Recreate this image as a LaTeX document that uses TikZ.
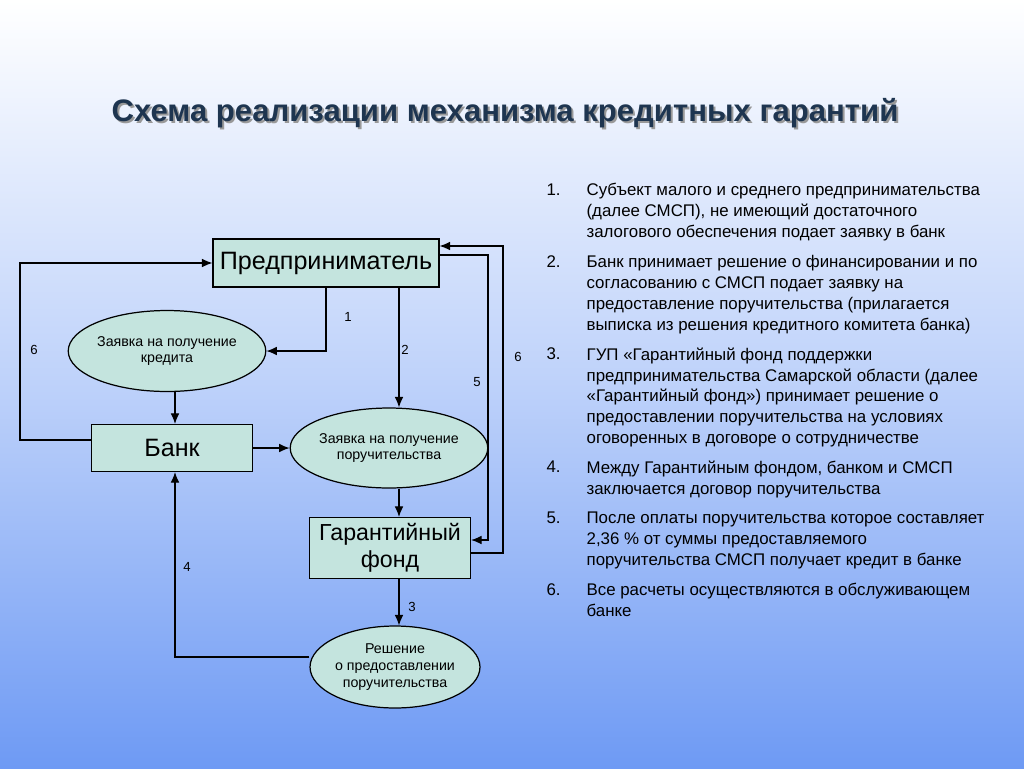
\documentclass[tikz,border=0pt]{standalone}
\usepackage{fontspec}
\setmainfont{Liberation Sans}
\usetikzlibrary{shapes.geometric,arrows.meta}
\definecolor{boxfill}{HTML}{C4E4DE}
\definecolor{titleblue}{HTML}{1E3550}
\definecolor{bgtop}{HTML}{FFFFFF}
\definecolor{bgbot}{HTML}{6E9AF4}
\tikzset{
	block/.style={draw, fill=boxfill, minimum height=#1},
	block/.default=0.96cm,
	oval/.style={draw, ellipse, fill=boxfill, inner sep=0pt, align=center, font=\fontsize{8.1}{9.6}\selectfont},
	link/.style={-{Latex[length=6pt,width=5pt]}},
	num/.style={font=\fontsize{7.5}{9}\selectfont}
}
\begin{document}
\begin{tikzpicture}[x=0.02cm, y=-0.02cm, line width=0.7pt]
		\shade[top color=bgtop, bottom color=bgbot, middle color=bgtop!55!bgbot] (0,0) rectangle (1024,768);
		\useasboundingbox (0,0) rectangle (1024,768);

		\node[font=\bfseries\fontsize{17.7}{20}\selectfont, text=black!40] at (507,115) {Схема реализации механизма кредитных гарантий};
		\node[font=\bfseries\fontsize{17.7}{20}\selectfont, text=titleblue] (title) at (505,113) {Схема реализации механизма кредитных гарантий};

		% boxes and ovals
		\node[block, minimum width=4.52cm, font=\fontsize{14.3}{16}\selectfont] (ent) at (326,263) {Предприниматель};
		\node[oval, minimum width=3.38cm, minimum height=1.62cm] (credit) at (167,351) {Заявка на получение\\кредита};
		\node[block=0.94cm, minimum width=3.22cm, font=\fontsize{14.3}{16}\selectfont] (bank) at (172,448) {Банк};
		\node[oval, minimum width=3.16cm, minimum height=1.6cm] (guar) at (389,448) {Заявка на получение\\поручительства};
		\node[block=1.14cm, minimum width=3.22cm, align=center, font=\fontsize{13.2}{15.5}\selectfont] (fund) at (390,548) {Гарантийный\\фонд};
		\node[oval, minimum width=3.4cm, minimum height=1.64cm] (dec) at (395,667) {Решение\\о предоставлении\\поручительства};

		% connectors
		\draw[link] (ent.south -| 326,0) |- (credit.east);
		\draw[link] (ent.south -| 399,0) -- (guar.north -| 399,0);
		\draw[link] (credit.south -| 175,0) -- (bank.north -| 175,0);
		\draw[link] (bank.east) -- (guar.west);
		\draw[link] (guar.south -| 399,0) -- (fund.north -| 399,0);
		\draw[link] (fund.south -| 399,0) -- (dec.north -| 399,0);
		\draw[link] (dec.west |- 0,657) -| (bank.south -| 175,0);
		\draw[link] (bank.west |- 0,440) -- (20,440) |- (ent.west);
		\draw[link] (ent.east |- 0,255) -- (488,255) |- (fund.east |- 0,540);
		\draw[link] (fund.east |- 0,553) -- (503,553) |- (ent.east |- 0,246);

		\node[num] (n1) at (348,317) {1};
		\node[num] (n2) at (405,350) {2};
		\node[num] (n3) at (412,607) {3};
		\node[num] (n4) at (187,567) {4};
		\node[num] (n5) at (477,382) {5};
		\node[num] (n6a) at (34,350) {6};
		\node[num] (n6b) at (518,357) {6};

		% list
		\foreach \y/\k/\t in {
			190/1/{Субъект малого и среднего предпринимательства\\(далее СМСП), не имеющий достаточного\\залогового обеспечения подает заявку в банк},
			262/2/{Банк принимает решение о финансировании и по\\согласованию с СМСП подает заявку на\\предоставление поручительства (прилагается\\выписка из решения кредитного комитета банка)},
			354/3/{ГУП «Гарантийный фонд поддержки\\предпринимательства Самарской области (далее\\«Гарантийный фонд») принимает решение о\\предоставлении поручительства на условиях\\оговоренных в договоре о сотрудничестве},
			467/4/{Между Гарантийным фондом, банком и СМСП\\заключается договор поручительства},
			518/5/{После оплаты поручительства которое составляет\\2,36 \% от суммы предоставляемого\\поручительства СМСП получает кредит в банке},
			590/6/{Все расчеты осуществляются в обслуживающем\\банке}} {
			\node[anchor=north west, inner sep=0, font=\fontsize{9.6}{11.9}\selectfont] (k\k) at (546,\y-7) {\k.};
			\node[anchor=north west, inner sep=0, align=left, font=\fontsize{9.6}{11.9}\selectfont] (t\k) at (586,\y-7) {\t};
		}
	\end{tikzpicture}
\end{document}
